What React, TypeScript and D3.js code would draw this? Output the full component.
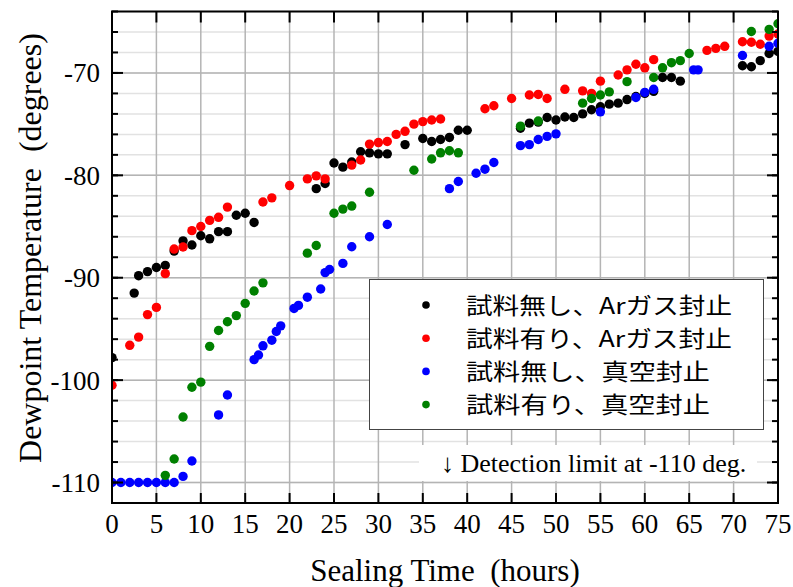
import React from "react";
import * as d3 from "d3";

type Pt = [number, number];

const seriesNames = ["試料無し、Arガス封止", "試料有り、Arガス封止", "試料無し、真空封止", "試料有り、真空封止"];
const seriesColors = ["#000000", "#ff0000", "#0000ff", "#008000"];

const blackNoSampleAr: Pt[] = [
  [0, -97.8], [2.5, -91.5], [3, -89.8], [4, -89.4], [5, -89.0], [6, -88.8], [7, -87.4], [8, -86.4], [9, -86.8],
  [10, -85.9], [11, -86.2], [12, -85.5], [13, -85.5], [14, -83.9], [15, -83.7], [16, -84.6], [23, -81.3], [24, -80.8],
  [25, -78.8], [26, -79.2], [27, -78.7], [28, -77.7], [29, -77.8], [30, -77.9], [31, -77.9], [33, -77.0], [35, -76.4],
  [36, -76.7], [37, -76.5], [38, -76.3], [39, -75.6], [40, -75.6], [46, -75.4], [47, -74.9], [48, -74.8], [49, -74.35],
  [50, -74.6], [51, -74.3], [52, -74.35], [53, -74.0], [54, -73.6], [55, -73.3], [56, -73.05], [57, -72.95], [58, -72.6],
  [59, -72.3], [60, -72.0], [61, -71.8], [62, -70.45], [63, -70.45], [64, -70.8], [71, -69.3], [72, -69.4], [73, -68.8],
  [74, -68.1], [75, -67.9],
];

const redSampleAr: Pt[] = [
  [0, -100.5], [2, -96.6], [3, -95.8], [4, -93.6], [5, -92.9], [6, -89.6], [7, -87.2], [8, -87.0], [9, -85.4],
  [10, -85.0], [11, -84.4], [12, -84.1], [13, -83.1], [17, -82.6], [18, -82.2], [20, -81.0], [22, -80.35], [23, -80.05],
  [24, -80.35], [27, -79.0], [28, -78.5], [29, -76.95], [30, -76.8], [31, -76.7], [32, -76.0], [33, -75.7], [34, -75.0],
  [35, -74.75], [36, -74.6], [37, -74.5], [42, -73.5], [43, -73.2], [45, -72.5], [47, -72.15], [48, -72.1], [49, -72.5],
  [51, -71.6], [53, -71.75], [54, -72.0], [55, -70.8], [57, -70.2], [58, -69.7], [59, -69.15], [60, -69.5], [61, -68.7],
  [67, -67.8], [68, -67.6], [69, -67.4], [71, -66.95], [72, -67.0], [73, -67.2], [74, -66.4], [75, -66.2],
];

const blueNoSampleVac: Pt[] = [
  [0, -110], [1, -110], [2, -110], [3, -110], [4, -110], [5, -110], [6, -110], [7, -110], [8, -109.4], [9, -107.9],
  [12, -103.4], [13, -101.45], [16, -98.0], [16.5, -97.55], [17, -96.65], [18, -96.1], [18.5, -95.25], [19, -94.7],
  [20.5, -93.0], [21, -92.7], [22, -91.9], [23.5, -91.1], [24, -89.5], [24.5, -89.2], [26, -88.6], [27, -86.97],
  [29, -86.0], [31, -84.8], [38, -81.3], [39, -80.6], [41, -79.8], [42, -79.4], [43, -78.75], [46, -77.1], [47, -77.0],
  [48, -76.5], [49, -76.2], [50, -75.95], [55, -73.8], [59, -72.4], [60, -71.9], [61, -71.6], [65.5, -69.7], [66, -69.7],
  [71, -68.3], [74, -67.4], [75, -67.1],
];

const greenSampleVac: Pt[] = [
  [6, -109.3], [7, -107.7], [8, -103.6], [9, -100.7], [10, -100.2], [11, -96.7], [12, -95.15], [13, -94.3], [14, -93.7],
  [15, -92.5], [16, -91.3], [17, -90.5], [22, -87.6], [23, -86.85], [25, -83.7], [26, -83.3], [27, -83.0], [29, -81.65],
  [34, -79.5], [36, -78.4], [37, -77.8], [38, -77.6], [39, -77.8], [46, -75.2], [48, -74.7], [53, -72.95], [54, -72.5],
  [55, -72.15], [56, -71.85], [58, -70.85], [61, -70.45], [62, -69.5], [63, -69.0], [64, -68.8], [65, -68.1], [72, -65.95],
  [74, -65.75], [75, -65.2],
];

const allSeries: Pt[][] = [blackNoSampleAr, redSampleAr, blueNoSampleVac, greenSampleVac];

const xTicks = [0, 5, 10, 15, 20, 25, 30, 35, 40, 45, 50, 55, 60, 65, 70, 75];
const yMajorTicks = [-110, -100, -90, -80, -70];
const yMinorTicks = d3.range(-112, -63, 2);

const xTitle = "Sealing Time  (hours)";
const yTitle = "Dewpoint Temperature  (degrees)";
const noteText = "↓ Detection limit at -110 deg.";

export default function App() {
  const W = 793, H = 587;
  const L = 112, R = 778, T = 11.5, B = 503;
  const x = d3.scaleLinear().domain([0, 75]).range([L, R]);
  const y = d3.scaleLinear().domain([-112, -64]).range([B, T]);
  const serif = "'Liberation Serif', 'Times New Roman', serif";
  const cjk = "'Noto Sans CJK JP', sans-serif";
  const legendWidths = [266, 266, 244, 244];

  return (
    <div style={{ position: "absolute", left: 0, top: 0 }}>
      <svg width={W} height={H} viewBox={`0 0 ${W} ${H}`} style={{ display: "block", background: "#fff" }}>
        <defs>
          <clipPath id="plotClip">
            <rect x={L} y={T} width={R - L} height={B - T} />
          </clipPath>
        </defs>
        <rect x={0} y={0} width={W} height={H} fill="#fff" />
        {/* grid */}
        <g>
          {yMinorTicks.map((v) => (
            <line key={"hm" + v} x1={L} x2={R} y1={y(v)} y2={y(v)} stroke="#e2e2e2" strokeWidth={1.5} />
          ))}
          {yMajorTicks.map((v) => (
            <line key={"hM" + v} x1={L} x2={R} y1={y(v)} y2={y(v)} stroke="#b4b4b4" strokeWidth={1.5} />
          ))}
          {xTicks.map((v) => (
            <line key={"v" + v} x1={x(v)} x2={x(v)} y1={T} y2={B} stroke="#b4b4b4" strokeWidth={1.5} />
          ))}
        </g>
        {/* detection limit note background */}
        <rect x={419} y={445} width={338} height={36} fill="#fff" />
        {/* points */}
        <g clipPath="url(#plotClip)">
          {allSeries.map((s, i) => (
            <g key={"s" + i} fill={seriesColors[i]}>
              {s.map((p, j) => (
                <circle key={j} cx={x(p[0])} cy={y(p[1])} r={4.7} />
              ))}
            </g>
          ))}
        </g>
        {/* frame */}
        <rect x={L} y={T} width={R - L} height={B - T} fill="none" stroke="#000" strokeWidth={2} />
        {/* ticks */}
        <g stroke="#000" strokeWidth={2}>
          {xTicks.map((v) => (
            <g key={"xt" + v}>
              <line x1={x(v)} x2={x(v)} y1={B} y2={B - 10} />
              <line x1={x(v)} x2={x(v)} y1={T} y2={T + 11} />
            </g>
          ))}
          {yMinorTicks.map((v) => (
            <g key={"ytm" + v}>
              <line x1={L} x2={L + 6} y1={y(v)} y2={y(v)} />
              <line x1={R} x2={R - 6} y1={y(v)} y2={y(v)} />
            </g>
          ))}
          {yMajorTicks.map((v) => (
            <g key={"ytM" + v}>
              <line x1={L} x2={L + 11} y1={y(v)} y2={y(v)} />
              <line x1={R} x2={R - 11} y1={y(v)} y2={y(v)} />
            </g>
          ))}
        </g>
        {/* tick labels */}
        <g fontFamily={serif} fontSize={27} fill="#000">
          {xTicks.map((v) => (
            <text key={"xl" + v} x={x(v)} y={533} textAnchor="middle">
              {v}
            </text>
          ))}
          {yMajorTicks.map((v) => (
            <text key={"yl" + v} x={100} y={y(v) + 9.5} textAnchor="end">
              {v}
            </text>
          ))}
        </g>
        {/* axis titles */}
        <text x={445} y={581} textAnchor="middle" fontFamily={serif} fontSize={31} fill="#000" xmlSpace="preserve">
          {xTitle}
        </text>
        <text
          transform={`translate(41, 248) rotate(-90)`}
          textAnchor="middle"
          fontFamily={serif}
          fontSize={32}
          fill="#000"
          xmlSpace="preserve"
        >
          {yTitle}
        </text>
        {/* legend */}
        <rect x={369.5} y={279.5} width={394} height={150} fill="#fff" stroke="#444" strokeWidth={1} />
        {seriesNames.map((name, i) => (
          <g key={"lg" + i}>
            <circle cx={426} cy={305 + i * 33.2} r={3.8} fill={seriesColors[i]} />
            <text
              x={466}
              y={305 + i * 33.2 + 8.5}
              fontFamily={cjk}
              fontSize={22.5}
              fill="#000"
              textLength={legendWidths[i]}
              lengthAdjust="spacingAndGlyphs"
            >
              {name}
            </text>
          </g>
        ))}
        {/* note */}
        <text x={441} y={472} fontFamily={serif} fontSize={26} fill="#000">
          {noteText}
        </text>
      </svg>
    </div>
  );
}
